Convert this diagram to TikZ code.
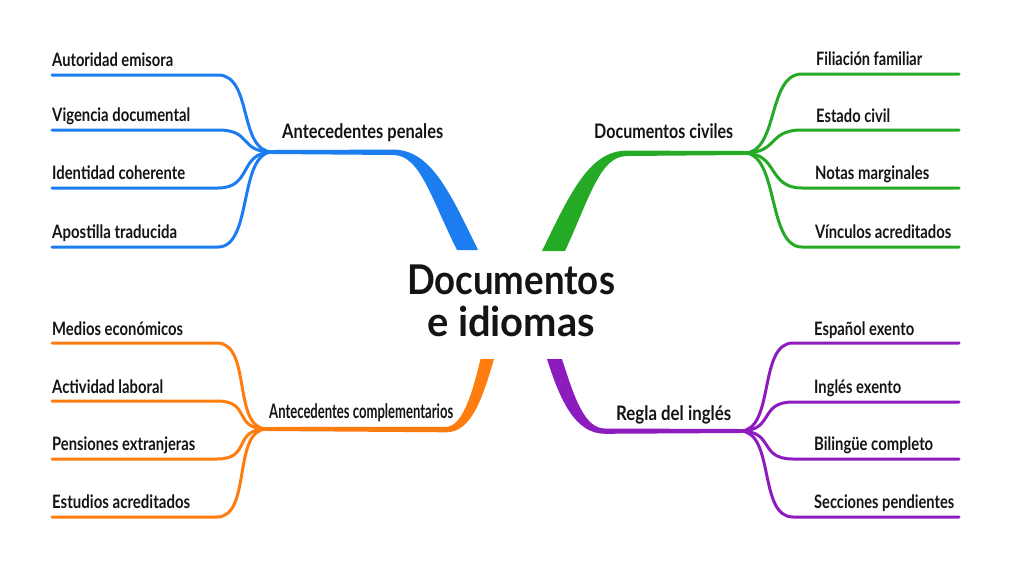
\documentclass[tikz,border=0pt]{standalone}
\usepackage{fontspec}
\setmainfont{Lato}
\usepackage{graphicx}
\definecolor{cb}{RGB}{28,125,240}
\definecolor{cg}{RGB}{36,170,36}
\definecolor{co}{RGB}{255,125,15}
\definecolor{cp}{RGB}{140,28,190}
\definecolor{ink}{RGB}{20,20,20}
\newsavebox\fitbox
\newcommand\fitw[2]{\sbox\fitbox{#2}\pgfmathsetmacro\fitsx{#1/\the\wd\fitbox}\scalebox{\fitsx}[1]{\usebox\fitbox}}
\begin{document}
\begin{tikzpicture}[x=1pt,y=-1pt,
  leaf/.style={font=\fontsize{18.5}{20}\selectfont\bfseries, text=ink, inner sep=0pt, anchor=base west},
  blabel/.style={font=\fontsize{20}{22}\selectfont\bfseries, text=ink, inner sep=0pt, anchor=base west},
  titlebox/.style={font=\fontsize{41}{42}\selectfont\bfseries, text=ink, inner sep=0pt, align=center},
  twig/.style={line width=3pt, line cap=round}]
\useasboundingbox (0,0) rectangle (1024,576);
\fill[white] (0,0) rectangle (1024,576);

% centre
\node[titlebox] (c) at (511,301) {\fitw{208}{Documentos}\\\fitw{168}{e idiomas}};

% junctions
\coordinate (jb) at (273,152);
\coordinate (jg) at (744,153);
\coordinate (jo) at (267,429);
\coordinate (jp) at (740,431);

% trunks
\fill[cb] (jb) ++(0,-2) -- (393,149.6) .. controls (430,149.6) and (449,190) .. (478,250)
  -- (457,250) .. controls (430,196) and (420,155) .. (393,155) -- (273,154) -- cycle;
\fill[cg] (jg) ++(0,-2) -- (627,150.6) .. controls (590,150.6) and (571,191) .. (542,251)
  -- (565,251) .. controls (590,197) and (600,156) .. (627,156) -- (744,155) -- cycle;
\fill[co] (jo) ++(0,2) -- (446,432.3) .. controls (471,432.3) and (482,400) .. (494,359)
  -- (480.5,359) .. controls (472,395) and (462,426.8) .. (446,426.8) -- (267,427) -- cycle;
\fill[cp] (jp) ++(0,2) -- (605,433.8) .. controls (575,433.8) and (560,400) .. (547,359)
  -- (562,359) .. controls (575,400) and (585,428.5) .. (605,428.5) -- (740,429) -- cycle;

% branch labels
\node[blabel] (lb) at (282,138) {\fitw{161}{Antecedentes penales}};
\node[blabel] (lg) at (594,138) {\fitw{139}{Documentos civiles}};
\node[blabel] (lo) at (269,418) {\fitw{184}{Antecedentes complementarios}};
\node[blabel] (lp) at (616,420) {\fitw{115}{Regla del inglés}};

% blue leaves
\foreach \i/\y in {1/75,2/130,3/188,4/247}{
  \coordinate (b\i c) at (218,\y); \coordinate (b\i e) at (52,\y);
  \draw[twig,cb] (jb) .. controls +(-35,0) and +(35,0) .. (b\i c) -- (b\i e);}
\node[leaf] (b1) at (52,66) {\fitw{121}{Autoridad emisora}};
\node[leaf] (b2) at (52,121) {\fitw{138}{Vigencia documental}};
\node[leaf] (b3) at (52,179) {\fitw{133}{Identidad coherente}};
\node[leaf] (b4) at (52,238) {\fitw{125}{Apostilla traducida}};

% green leaves
\foreach \i/\y in {1/74,2/130,3/188,4/247}{
  \coordinate (g\i c) at (802,\y); \coordinate (g\i e) at (959,\y);
  \draw[twig,cg] (jg) .. controls +(35,0) and +(-35,0) .. (g\i c) -- (g\i e);}
\node[leaf] (g1) at (816,65) {\fitw{106}{Filiación familiar}};
\node[leaf] (g2) at (816,122) {\fitw{74}{Estado civil}};
\node[leaf] (g3) at (815,179) {\fitw{114}{Notas marginales}};
\node[leaf] (g4) at (815,238) {\fitw{136}{Vínculos acreditados}};

% orange leaves
\foreach \i/\y in {1/343,2/401,3/459,4/517}{
  \coordinate (o\i c) at (217,\y); \coordinate (o\i e) at (52,\y);
  \draw[twig,co] (jo) .. controls +(-35,0) and +(35,0) .. (o\i c) -- (o\i e);}
\node[leaf] (o1) at (52,335) {\fitw{131}{Medios económicos}};
\node[leaf] (o2) at (52,393) {\fitw{111}{Actividad laboral}};
\node[leaf] (o3) at (52,450) {\fitw{143}{Pensiones extranjeras}};
\node[leaf] (o4) at (52,508) {\fitw{138}{Estudios acreditados}};

% purple leaves
\foreach \i/\y in {1/343,2/402,3/459,4/517}{
  \coordinate (p\i c) at (793,\y); \coordinate (p\i e) at (959,\y);
  \draw[twig,cp] (jp) .. controls +(35,0) and +(-35,0) .. (p\i c) -- (p\i e);}
\node[leaf] (p1) at (814,335) {\fitw{100}{Español exento}};
\node[leaf] (p2) at (814,393) {\fitw{87}{Inglés exento}};
\node[leaf] (p3) at (814,450) {\fitw{119}{Bilingüe completo}};
\node[leaf] (p4) at (814,508) {\fitw{140}{Secciones pendientes}};
\end{tikzpicture}
\end{document}
